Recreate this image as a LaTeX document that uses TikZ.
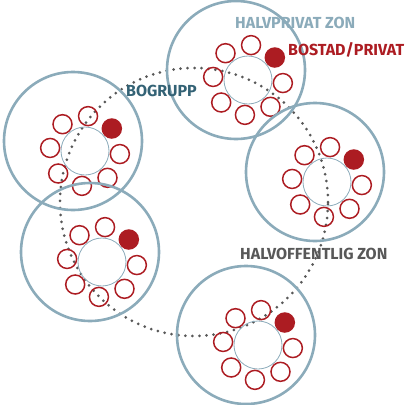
\documentclass[tikz,border=0pt]{standalone}
\usepackage{fontspec}
\setsansfont{Fira Sans}
\usepackage{tikz}
\definecolor{zoneblue}{RGB}{139,171,186}
\definecolor{homered}{RGB}{172,28,34}
\definecolor{groupteal}{RGB}{51,98,117}
\definecolor{publicgray}{RGB}{88,88,88}

\begin{document}
\begin{tikzpicture}[
        x=1pt, y=-1pt,
        zone/.style={circle, draw=zoneblue, line width=2.6pt, minimum size=138pt, inner sep=0pt},
        court/.style={circle, draw=zoneblue, line width=0.8pt, minimum size=48pt, inner sep=0pt},
        home/.style={circle, draw=homered, line width=1.5pt, minimum size=19pt, inner sep=0pt},
        ownhome/.style={home, fill=homered},
        walkway/.style={circle, draw=publicgray, line width=3pt, line cap=round, dash pattern=on 0pt off 7pt, minimum size=268pt, inner sep=0pt},
        zonetext/.style={font=\sffamily\bfseries\fontsize{16}{16}\selectfont, inner sep=0pt, anchor=base west}
    ]
        \useasboundingbox (0,0) rectangle (405,405);

        % Shared path round the groups
        \node[walkway] (walk) at (194,202) {};

        % Groups: zone, courtyard, homes
        \foreach \grp/\cx/\cy in {priv/236/70, grp/73/141, east/315/172, west/90/252, south/246/335} {
            \node[zone] (\grp) at (\cx,\cy) {};
            \node[court] (\grp-court) at (\cx+12,\cy+10) {};
            \foreach \a in {5,50,...,275}
                \path (\grp-court) ++(\a:35) node[home] (\grp-home\a) {};
            \path (\grp-court) ++(320:35) node[ownhome] (\grp-own) {};
        }

        % Labels
        \node[zonetext, text=zoneblue] (halvprivat) at (235,28) {HALVPRIVAT ZON};
        \node[zonetext, text=homered] (bostad) at (288,55) {BOSTAD/PRIVAT};
        \node[zonetext, text=groupteal] (bogrupp) at (126,96) {BOGRUPP};
        \node[zonetext, text=publicgray] (halvoffentlig) at (240,259) {HALVOFFENTLIG ZON};

    \end{tikzpicture}
\end{document}
